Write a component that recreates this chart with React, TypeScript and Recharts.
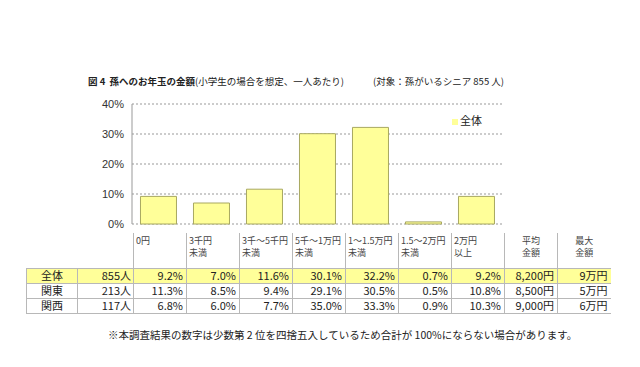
import { BarChart, Bar, XAxis, YAxis, CartesianGrid, Legend } from 'recharts';

const categories = ['0円', '3千円未満', '3千～5千円未満', '5千～1万円未満', '1～1.5万円未満', '1.5～2万円未満', '2万円以上'];
const headerTop = ['0円', '3千円', '3千～5千円', '5千～1万円', '1～1.5万円', '1.5～2万円', '2万円'];
const headerBottom = ['', '未満', '未満', '未満', '未満', '未満', '以上'];
const regions = ['全体', '関東', '関西'];
const counts = ['855人', '213人', '117人'];
const zentai = [9.2, 7.0, 11.6, 30.1, 32.2, 0.7, 9.2];
const kanto = [11.3, 8.5, 9.4, 29.1, 30.5, 0.5, 10.8];
const kansai = [6.8, 6.0, 7.7, 35.0, 33.3, 0.9, 10.3];
const avgAmount = ['8,200円', '8,500円', '9,000円'];
const maxAmount = ['9万円', '5万円', '6万円'];
const yTicks = [0, 10, 20, 30, 40];

const chartData = categories.map((c, i) => ({ name: c, 全体: zentai[i] }));
const rows = [zentai, kanto, kansai];

const font = '"Noto Sans CJK JP", "Liberation Sans", Arial, sans-serif';
const line = '1px solid #b8b8b8';
const cell = { border: line, padding: '0 3px', lineHeight: '13px', height: 14, overflow: 'hidden', whiteSpace: 'nowrap' as const };
const head = { borderLeft: line, borderRight: line, verticalAlign: 'top' as const, fontSize: 9, lineHeight: '12px', padding: '2px 2px', color: '#444', whiteSpace: 'nowrap' as const, overflow: 'hidden' };

const App = () => {
  return (
    <div style={{ position: 'absolute', left: 0, top: 0, width: 640, height: 367, background: '#fff', fontFamily: font, color: '#222' }}>
      <div style={{ position: 'absolute', left: 88, top: 74, fontSize: 9.5, whiteSpace: 'nowrap' }}>
        <b>図 4&nbsp; 孫へのお年玉の金額</b>(小学生の場合を想定、一人あたり)
      </div>
      <div style={{ position: 'absolute', left: 373, top: 74, fontSize: 9.5, whiteSpace: 'nowrap' }}>
        (対象：孫がいるシニア 855 人)
      </div>

      <div style={{ position: 'absolute', left: 0, top: 0 }}>
        <BarChart width={640} height={367} data={chartData} margin={{ top: 104, right: 137, bottom: 143, left: 92 }} barCategoryGap="16%">
          <CartesianGrid vertical={false} stroke="#999" strokeDasharray="2 2" />
          <XAxis dataKey="name" tick={false} tickLine={false} height={0} axisLine={{ stroke: '#999' }} />
          <XAxis xAxisId="top" orientation="top" dataKey="name" tick={false} tickLine={false} height={0} axisLine={{ stroke: '#999' }} />
          <YAxis domain={[0, 40]} ticks={yTicks} width={40} tickLine={false} axisLine={{ stroke: '#999' }}
            tickFormatter={(v: number) => `${v}%`} tick={{ fontSize: 11, fill: '#333', fontFamily: '"Liberation Sans", Arial' }} />
          <YAxis yAxisId="r" orientation="right" width={0} tick={false} tickLine={false} axisLine={{ stroke: '#999' }} />
          <Legend layout="vertical" verticalAlign="middle" align="center" iconType="square" iconSize={6}
            wrapperStyle={{ top: 112, left: 452, width: 50, fontSize: 11 }}
            formatter={(v: string) => <span style={{ color: '#222', marginLeft: -2 }}>{v}</span>} />
          <Bar dataKey="全体" fill="#ffff99" stroke="#a8a860" strokeWidth={1} isAnimationActive={false} />
        </BarChart>
      </div>

      <table style={{ position: 'absolute', left: 26, top: 233, borderCollapse: 'collapse', tableLayout: 'fixed', fontSize: 11, width: 584 }}>
        <colgroup>
          <col style={{ width: 51 }} />
          <col style={{ width: 56 }} />
          {headerTop.map((_, i) => <col key={i} style={{ width: 53 }} />)}
          <col style={{ width: 53 }} />
          <col style={{ width: 53 }} />
        </colgroup>
        <tbody>
          <tr style={{ height: 35 }}>
            <td />
            <td />
            {headerTop.map((h, i) => (
              <td key={i} style={head}>
                {h}<br />{headerBottom[i]}
              </td>
            ))}
            <td style={{ ...head, textAlign: 'center' }}>平均<br />金額</td>
            <td style={{ ...head, borderRight: 'none', textAlign: 'center' }}>最大<br />金額</td>
          </tr>
          {rows.map((vals, r) => (
            <tr key={r} style={{ height: 15, background: r === 0 ? '#ffff99' : '#fff' }}>
              <td style={{ ...cell, textAlign: 'center' }}>{regions[r]}</td>
              <td style={{ ...cell, textAlign: 'right', padding: '0 2px' }}>{counts[r]}</td>
              {vals.map((v, i) => (
                <td key={i} style={{ ...cell, textAlign: 'right' }}>{v.toFixed(1)}%</td>
              ))}
              <td style={{ ...cell, textAlign: 'right' }}>{avgAmount[r]}</td>
              <td style={{ ...cell, borderRight: 'none', textAlign: 'right' }}>{maxAmount[r]}</td>
            </tr>
          ))}
        </tbody>
      </table>

      <div style={{ position: 'absolute', left: 108, top: 327, fontSize: 10.5, whiteSpace: 'nowrap', color: '#222' }}>
        ※本調査結果の数字は少数第 2 位を四捨五入しているため合計が 100%にならない場合があります。
      </div>
    </div>
  );
};

export default App;
